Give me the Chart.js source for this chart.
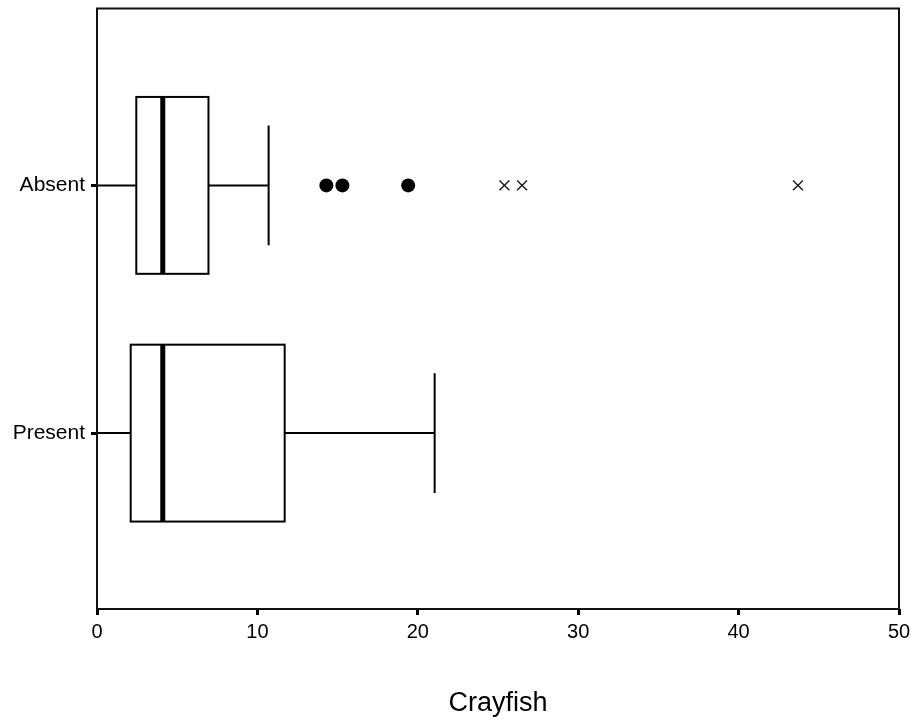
<!DOCTYPE html>
<html>
<head>
<meta charset="utf-8">
<script src="https://cdn.jsdelivr.net/npm/chart.js"></script>
<style>
  html, body { margin: 0; padding: 0; background: #ffffff; }
  #wrap { width: 911px; height: 722px; position: relative; }
</style>
</head>
<body>
<div id="wrap"><canvas id="chart"></canvas></div>
<script>
// Crayfish counts by group, five-number summaries
const categories = ["Absent", "Present"];
const whiskerLow = [0, 0];
const q1 = [2.45, 2.1];
const median = [4.1, 4.1];
const q3 = [6.95, 11.7];
const whiskerHigh = [10.7, 21.05];

// points beyond the whiskers (group index 0 = Absent)
const outliersAbsent = [14.3, 15.3, 19.4];
const extremesAbsent = [25.4, 26.5, 43.7];

const xTicks = [0, 10, 20, 30, 40, 50];

const fontFamily = "'Liberation Sans', Arial, sans-serif";

// box and whisker drawing, positioned through the chart's own scales
const boxPlotPlugin = {
  id: "boxPlot",
  beforeDatasetsDraw(chart) {
    const ctx = chart.ctx;
    const xs = chart.scales.x;
    const ys = chart.scales.y;
    ctx.save();
    ctx.strokeStyle = "#000";
    ctx.lineCap = "butt";
    categories.forEach((cat, i) => {
      const yc = ys.getPixelForValue(i);
      const yTop = ys.getPixelForValue(i - 0.357);
      const yBot = ys.getPixelForValue(i + 0.357);
      const capTop = ys.getPixelForValue(i - 0.242);
      const capBot = ys.getPixelForValue(i + 0.242);
      const xLo = xs.getPixelForValue(whiskerLow[i]);
      const xQ1 = xs.getPixelForValue(q1[i]);
      const xMed = xs.getPixelForValue(median[i]);
      const xQ3 = xs.getPixelForValue(q3[i]);
      const xHi = xs.getPixelForValue(whiskerHigh[i]);

      // whiskers
      ctx.lineWidth = 2;
      ctx.beginPath();
      ctx.moveTo(xLo, yc); ctx.lineTo(xQ1, yc);
      ctx.moveTo(xQ3, yc); ctx.lineTo(xHi, yc);
      ctx.moveTo(xHi, capTop); ctx.lineTo(xHi, capBot);
      ctx.stroke();

      // box
      ctx.fillStyle = "#fff";
      ctx.fillRect(xQ1, yTop, xQ3 - xQ1, yBot - yTop);
      ctx.strokeRect(xQ1, yTop, xQ3 - xQ1, yBot - yTop);

      // median
      ctx.lineWidth = 5;
      ctx.beginPath();
      ctx.moveTo(xMed, yTop); ctx.lineTo(xMed, yBot);
      ctx.stroke();
    });
    ctx.restore();
  },
  afterDraw(chart) {
    // plot frame
    const a = chart.chartArea;
    const ctx = chart.ctx;
    ctx.save();
    ctx.strokeStyle = "#111";
    ctx.lineWidth = 2;
    ctx.strokeRect(a.left, a.top, a.right - a.left, a.bottom - a.top);
    ctx.restore();
  }
};

new Chart(document.getElementById("chart"), {
  type: "scatter",
  data: {
    datasets: [
      {
        label: "Outliers",
        data: outliersAbsent.map(v => ({ x: v, y: 0 })),
        pointStyle: "circle",
        pointRadius: 7,
        backgroundColor: "#000",
        borderColor: "#000",
        borderWidth: 0
      },
      {
        label: "Extremes",
        data: extremesAbsent.map(v => ({ x: v, y: 0 })),
        pointStyle: "crossRot",
        pointRadius: 7,
        borderColor: "#222",
        borderWidth: 1.5
      }
    ]
  },
  options: {
    responsive: true,
    maintainAspectRatio: false,
    animation: false,
    layout: { padding: { top: 8, right: 12, left: 0, bottom: 0 } },
    plugins: {
      legend: { display: false },
      tooltip: { enabled: false }
    },
    scales: {
      x: {
        type: "linear",
        min: 0,
        max: 50,
        afterBuildTicks: scale => { scale.ticks = xTicks.map(v => ({ value: v })); },
        afterFit: scale => {
          scale.height = 113;
          scale.paddingLeft = 0;
          scale.paddingRight = 0;
        },
        border: { display: false },
        grid: { drawOnChartArea: false, drawTicks: true, tickLength: 6, tickWidth: 3, color: "#000" },
        ticks: { color: "#000", padding: 5, font: { family: fontFamily, size: 20 } },
        title: {
          display: true,
          text: "Crayfish",
          color: "#000",
          padding: { top: 0, bottom: 2 },
          font: { family: fontFamily, size: 27 }
        }
      },
      y: {
        type: "linear",
        reverse: true,
        min: -0.714,
        max: 1.71,
        afterBuildTicks: scale => { scale.ticks = categories.map((c, i) => ({ value: i })); },
        afterFit: scale => {
          scale.width = 97;
          scale.paddingTop = 0;
          scale.paddingBottom = 0;
        },
        border: { display: false },
        grid: { drawOnChartArea: false, drawTicks: true, tickLength: 6, tickWidth: 3, color: "#000" },
        ticks: {
          color: "#000",
          padding: 6,
          font: { family: fontFamily, size: 21 },
          callback: v => categories[v]
        }
      }
    }
  },
  plugins: [boxPlotPlugin]
});
</script>
</body>
</html>
